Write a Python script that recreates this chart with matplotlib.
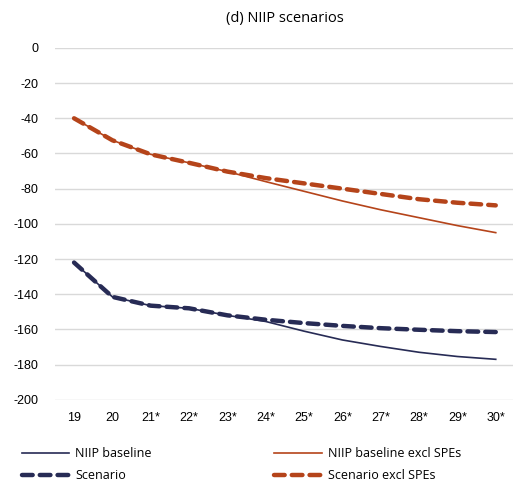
import matplotlib
matplotlib.use("Agg")
import matplotlib.pyplot as plt

plt.rcParams["axes.unicode_minus"] = False

years = ["19", "20", "21*", "22*", "23*", "24*", "25*", "26*", "27*", "28*", "29*", "30*"]

niip_baseline = [-122, -141.5, -146.5, -148, -152, -155.5, -161, -166, -169.7, -173, -175.4, -177]
scenario = [-122, -141.5, -146.5, -148, -152, -154.5, -156.4, -158, -159.3, -160.2, -161, -161.5]
niip_excl_spes = [-40, -52.5, -60.5, -65.3, -70.3, -76, -81.5, -87, -92, -96.5, -101, -105]
scenario_excl_spes = [-40, -52.5, -60.5, -65.3, -70.3, -74, -77, -80, -83, -86, -88, -89.5]

navy = "#272b55"
orange = "#b5441a"

fig = plt.figure(figsize=(5.13, 4.84), dpi=100)
ax = fig.add_axes([0.107, 0.174, 0.893, 0.727])

x = list(range(len(years)))
h1, = ax.plot(x, niip_baseline, color=navy, lw=1.2, label="NIIP baseline")
h2, = ax.plot(x, scenario, color=navy, lw=3.2, ls=(0, (2.4, 1.6)),
              dash_capstyle="round", label="Scenario")
h3, = ax.plot(x, niip_excl_spes, color=orange, lw=1.2, label="NIIP baseline excl SPEs")
h4, = ax.plot(x, scenario_excl_spes, color=orange, lw=3.2, ls=(0, (2.4, 1.6)),
              dash_capstyle="round", label="Scenario excl SPEs")

ax.set_ylim(-200, 0)
ax.set_yticks(range(-200, 1, 20))
ax.set_xlim(-0.5, 11.45)
ax.set_xticks(x)
ax.set_xticklabels(years)
ax.grid(axis="y", color="#d9d9d9", lw=1)
ax.set_axisbelow(True)
for s in ax.spines.values():
    s.set_visible(False)
ax.tick_params(length=0, labelsize=9, pad=9)
for lab in ax.get_xticklabels() + ax.get_yticklabels():
    lab.set_fontfamily("Liberation Sans")
ax.tick_params(axis="y", pad=12)

fig.text(0.555, 0.962, "(d) NIIP scenarios", ha="center", va="center",
         fontsize=10.5, family="Open Sans")

fig.legend([h1, h2, h3, h4], [h.get_label() for h in (h1, h2, h3, h4)],
           ncol=2, loc="lower left", bbox_to_anchor=(0.02, -0.02),
           frameon=False, handlelength=3.8, columnspacing=9.8,
           labelspacing=0.75, handletextpad=0.5,
           prop={"family": "Open Sans", "size": 9})

fig.savefig("out.png", dpi=100)
